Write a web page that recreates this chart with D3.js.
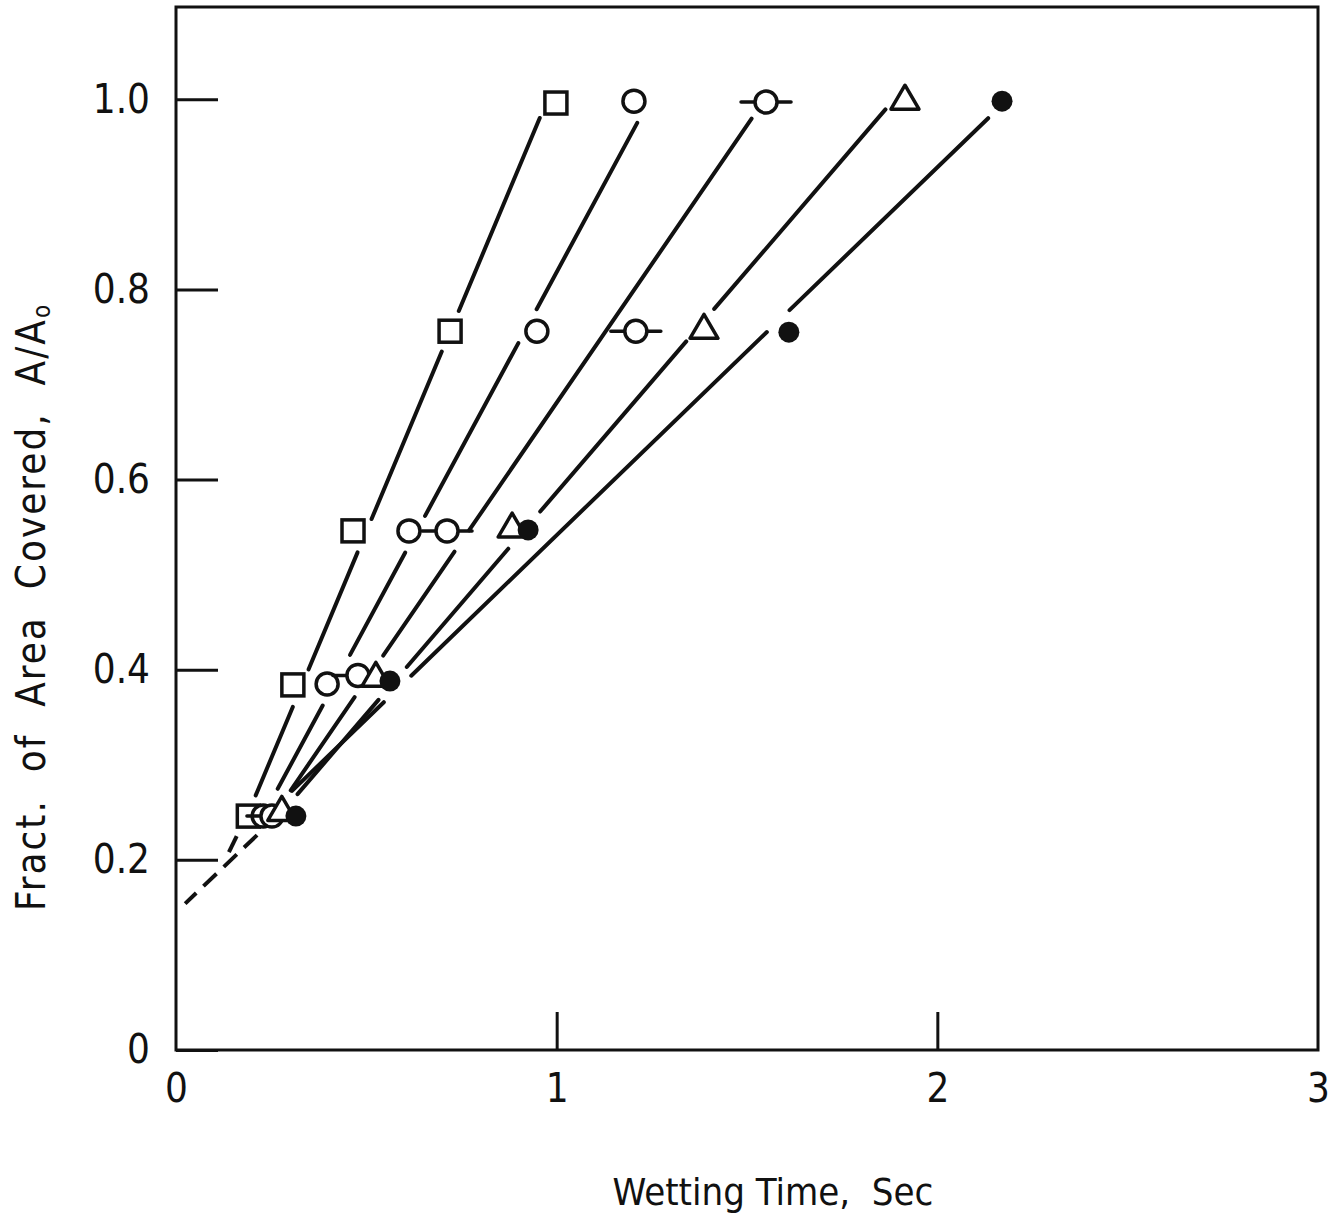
<!DOCTYPE html>
<html>
<head>
<meta charset="utf-8">
<script src="https://cdn.jsdelivr.net/npm/d3@7"></script>
<style>
  body { margin: 0; background: #fff; }
  text { font-family: "Liberation Sans Narrow", "DejaVu Sans Condensed", sans-serif; fill: #111; }
</style>
</head>
<body>
<div id="chart"></div>
<script>
// wetting time (sec) needed to reach each covered fraction, one array per run
var squareX   = [0.190, 0.307, 0.465, 0.720, 0.998];
var squareY   = [0.246, 0.384, 0.546, 0.756, 0.996];
var circleX   = [0.229, 0.397, 0.612, 0.948, 1.203];
var circleY   = [0.246, 0.385, 0.546, 0.756, 0.998];
var barredX   = [0.252, 0.478, 0.712, 1.208, 1.550];
var barredY   = [0.246, 0.394, 0.546, 0.756, 0.997];
var triangleX = [0.278, 0.525, 0.883, 1.387, 1.915];
var triangleY = [0.252, 0.393, 0.550, 0.759, 1.000];
var dotX      = [0.315, 0.562, 0.925, 1.610, 2.170];
var dotY      = [0.246, 0.388, 0.547, 0.755, 0.998];

// straight fitted lines, one per run (start / end)
var fitStartX = [0.1865, 0.2285, 0.2548, 0.2784, 0.226];
var fitStartY = [0.246, 0.246, 0.246, 0.250, 0.242];
var fitEndX   = [0.972, 1.2425, 1.542, 1.891, 2.180];
var fitEndY   = [0.996, 0.998, 0.997, 1.002, 0.998];

// dashed extrapolations toward t = 0
var extrapX   = [0.213, 0.024];
var extrapY   = [0.226, 0.154];
var squareExtX = [0.139, 0.163];
var squareExtY = [0.208, 0.228];

var yTicks = [0, 0.2, 0.4, 0.6, 0.8, 1.0];
var xTicks = [0, 1, 2, 3];

var width = 1333, height = 1213;

var svg = d3.select("#chart")
    .append("svg")
    .attr("width", width)
    .attr("height", height);

var x = d3.scaleLinear().domain([0, 3]).range([176, 1318]);
var y = d3.scaleLinear().domain([0, 1.097]).range([1050, 7]);

// frame
svg.append("rect")
    .attr("x", x(0))
    .attr("y", y(1.097))
    .attr("width", x(3) - x(0))
    .attr("height", y(0) - y(1.097))
    .attr("fill", "none")
    .attr("stroke", "#111")
    .attr("stroke-width", 3);

var yAxis = svg.append("g")
    .attr("transform", "translate(" + x(0) + ",0)")
    .call(d3.axisLeft(y)
        .tickValues(yTicks)
        .tickSizeInner(-42)
        .tickSizeOuter(0)
        .tickPadding(26)
        .tickFormat(function(d) { return d === 0 ? "0" : d3.format(".1f")(d); }));

var xAxis = svg.append("g")
    .attr("transform", "translate(0," + y(0) + ")")
    .call(d3.axisBottom(x)
        .tickValues(xTicks)
        .tickSizeInner(-38)
        .tickSizeOuter(0)
        .tickPadding(24)
        .tickFormat(d3.format("d")));

svg.selectAll(".domain").remove();
svg.selectAll(".tick line")
    .attr("stroke", "#111")
    .attr("stroke-width", 3);
svg.selectAll(".tick text")
    .attr("font-size", 40)
    .attr("font-family", null)
    .attr("fill", "#111");
// the 0 and 3 ticks sit on the frame corners
xAxis.selectAll(".tick line").filter(function(d) { return d === 0 || d === 3; }).remove();

svg.append("text")
    .attr("x", 773)
    .attr("y", 1205)
    .attr("text-anchor", "middle")
    .attr("font-size", 38)
    .attr("xml:space", "preserve")
    .text("Wetting Time,  Sec");

var ylab = svg.append("text")
    .attr("transform", "translate(45,607) rotate(-90)")
    .attr("text-anchor", "middle")
    .attr("font-size", 40)
    .attr("letter-spacing", 2)
    .attr("xml:space", "preserve");
ylab.append("tspan").text("Fract.  of  Area  Covered,  A/A");
ylab.append("tspan").attr("font-size", 24).attr("dy", 5).text("o");

var series = [
    {shape: "square",   xs: squareX,   ys: squareY},
    {shape: "circle",   xs: circleX,   ys: circleY},
    {shape: "barred",   xs: barredX,   ys: barredY},
    {shape: "triangle", xs: triangleX, ys: triangleY},
    {shape: "dot",      xs: dotX,      ys: dotY}
];

var markers = [];
series.forEach(function(s) {
    s.xs.forEach(function(v, i) {
        markers.push({shape: s.shape, px: x(v), py: y(s.ys[i])});
    });
});

// break each line where it passes through a marker
var gap = 22;
function visibleParts(x0, y0, x1, y1) {
    var L = Math.hypot(x1 - x0, y1 - y0), ux = (x1 - x0) / L, uy = (y1 - y0) / L;
    var cuts = [];
    markers.forEach(function(m) {
        var dx = m.px - x0, dy = m.py - y0;
        var t = dx * ux + dy * uy, d = Math.abs(dx * uy - dy * ux);
        if (d < gap) {
            var h = Math.sqrt(gap * gap - d * d);
            cuts.push([t - h, t + h]);
        }
    });
    cuts.sort(function(a, b) { return a[0] - b[0]; });
    var parts = [], pos = 0;
    cuts.forEach(function(c) {
        if (c[0] > pos) parts.push([pos, Math.min(c[0], L)]);
        pos = Math.max(pos, c[1]);
    });
    if (pos < L) parts.push([pos, L]);
    return parts.filter(function(p) { return p[1] - p[0] > 2; }).map(function(p) {
        return [x0 + ux * p[0], y0 + uy * p[0], x0 + ux * p[1], y0 + uy * p[1]];
    });
}

var segs = [];
fitStartX.forEach(function(v, i) {
    segs = segs.concat(visibleParts(x(v), y(fitStartY[i]), x(fitEndX[i]), y(fitEndY[i])));
});

svg.append("g").selectAll("line")
    .data(segs)
    .enter()
    .append("line")
    .attr("x1", function(d) { return d[0]; })
    .attr("y1", function(d) { return d[1]; })
    .attr("x2", function(d) { return d[2]; })
    .attr("y2", function(d) { return d[3]; })
    .attr("stroke", "#111")
    .attr("stroke-width", 4)
    .attr("stroke-linecap", "round");

svg.append("g").selectAll("line")
    .data([[extrapX, extrapY], [squareExtX, squareExtY]])
    .enter()
    .append("line")
    .attr("x1", function(d) { return x(d[0][0]); })
    .attr("y1", function(d) { return y(d[1][0]); })
    .attr("x2", function(d) { return x(d[0][1]); })
    .attr("y2", function(d) { return y(d[1][1]); })
    .attr("stroke", "#111")
    .attr("stroke-width", 4)
    .attr("stroke-dasharray", "18,10");

var node = svg.append("g").selectAll("g")
    .data(markers)
    .enter()
    .append("g")
    .attr("transform", function(d) { return "translate(" + d.px + "," + d.py + ")"; });

node.each(function(d) {
    var g = d3.select(this);
    if (d.shape === "square") {
        g.append("rect").attr("x", -11).attr("y", -11).attr("width", 22).attr("height", 22)
            .attr("fill", "#fff").attr("stroke", "#111").attr("stroke-width", 3.5);
    } else if (d.shape === "circle") {
        g.append("circle").attr("r", 11)
            .attr("fill", "#fff").attr("stroke", "#111").attr("stroke-width", 3.5);
    } else if (d.shape === "barred") {
        g.append("path").attr("d", "M-25,0H-11M11,0H25")
            .attr("stroke", "#111").attr("stroke-width", 3.5).attr("stroke-linecap", "round");
        g.append("circle").attr("r", 11)
            .attr("fill", "#fff").attr("stroke", "#111").attr("stroke-width", 3.5);
    } else if (d.shape === "triangle") {
        g.append("path").attr("d", "M0,-14L14,10L-14,10Z")
            .attr("fill", "#fff").attr("stroke", "#111").attr("stroke-width", 3.5)
            .attr("stroke-linejoin", "round");
    } else {
        g.append("circle").attr("r", 10.5).attr("fill", "#111");
    }
});
</script>
</body>
</html>
